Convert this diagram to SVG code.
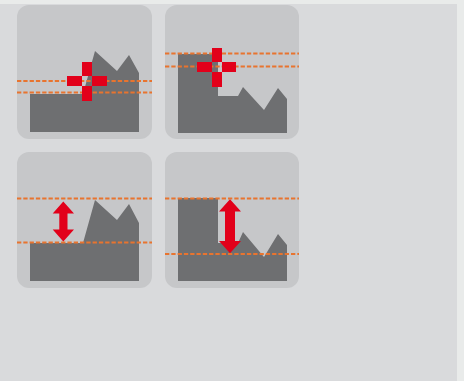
<svg xmlns="http://www.w3.org/2000/svg" width="464" height="381" viewBox="0 0 464 381">
<style>
.tile{fill:#c6c7c9}
.dark{fill:#6e6f71}
.dash{stroke:#e8742f;stroke-width:2;stroke-dasharray:4.3 2;fill:none}
.red{fill:#e2001a}
</style>
<rect x="0" y="0" width="464" height="381" fill="#e9ebea"/>
<rect x="0" y="4" width="457" height="377" fill="#d9dadc"/>
<g id="tile1">
<rect class="tile" x="17" y="5" width="135" height="134" rx="12"/>
<polygon class="dark" points="30,94 83,94 95,51 117,71 129,55 139,73 139,132 30,132"/>
<line class="dash" x1="17" y1="81" x2="152" y2="81"/>
<line class="dash" x1="17" y1="92.5" x2="152" y2="92.5"/>
<g class="red"><rect x="82" y="62" width="10" height="14"/><rect x="82" y="86" width="10" height="15"/><rect x="67" y="76" width="15" height="10"/><rect x="92" y="76" width="15" height="10"/></g>
</g>
<g id="tile2">
<rect class="tile" x="165" y="5" width="134" height="134" rx="12"/>
<polygon class="dark" points="178,54 218,54 218,96 238,96 243,87 264,110 278,88 287,99 287,133 178,133"/>
<line class="dash" x1="165" y1="53.5" x2="299" y2="53.5"/>
<line class="dash" x1="165" y1="66.5" x2="299" y2="66.5"/>
<g class="red"><rect x="212" y="48" width="10" height="14"/><rect x="212" y="72" width="10" height="15"/><rect x="197" y="62" width="15" height="10"/><rect x="222" y="62" width="14" height="10"/></g>
</g>
<g id="tile3">
<rect class="tile" x="17" y="152" width="135" height="136" rx="12"/>
<polygon class="dark" points="30,243 83,243 95,200 117,220 129,204 139,223 139,281 30,281"/>
<line class="dash" x1="17" y1="198.5" x2="152" y2="198.5"/>
<line class="dash" x1="17" y1="242.5" x2="152" y2="242.5"/>
<path class="red" d="M63.3,201.5 L74,213.5 L67.5,213.5 L67.5,229.5 L74,229.5 L63.3,241.5 L52.7,229.5 L59.3,229.5 L59.3,213.5 L52.7,213.5 Z"/>
</g>
<g id="tile4">
<rect class="tile" x="165" y="152" width="134" height="136" rx="12"/>
<polygon class="dark" points="178,198 218,198 218,243 238,243 243,232 264,257 278,234 287,245 287,281 178,281"/>
<line class="dash" x1="165" y1="198.5" x2="299" y2="198.5"/>
<line class="dash" x1="165" y1="254" x2="299" y2="254"/>
<path class="red" d="M230,199.3 L241,211.5 L235,211.5 L235,241 L241,241 L230,253.3 L219,241 L225,241 L225,211.5 L219,211.5 Z"/>
</g>
<g id="connectors"/>
</svg>
